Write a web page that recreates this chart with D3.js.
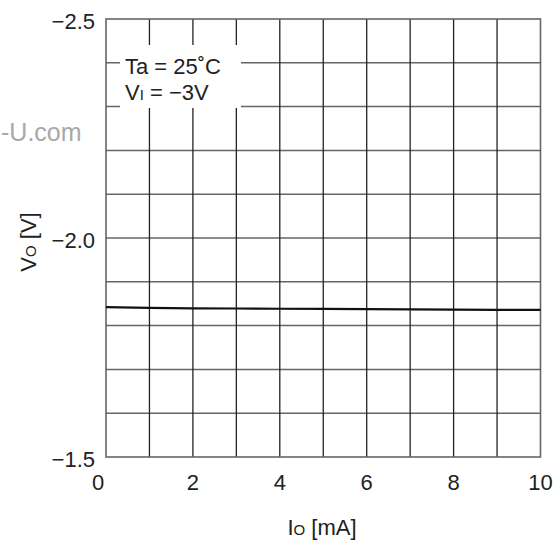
<!DOCTYPE html>
<html><head><meta charset="utf-8">
<script src="https://cdn.jsdelivr.net/npm/d3@7"></script>
<style>body{margin:0;background:#fff}svg{display:block}text{font-family:"Liberation Sans",Arial,sans-serif;fill:#222}</style>
</head><body>
<svg id="c" width="560" height="541"></svg>
<script>
const ioValues = [0,1,2,3,4,5,6,7,8,9,10];
const voValues = [-1.842,-1.8405,-1.8395,-1.839,-1.8385,-1.838,-1.8375,-1.837,-1.8365,-1.836,-1.836];
const xTicks = [0,2,4,6,8,10];
const yTickLabels = [-2.5,-2.0,-1.5];

const svg = d3.select("#c");
const L=106, R=540.5, T=19, B=457;
const x = d3.scaleLinear().domain([0,10]).range([L,R]);
const y = d3.scaleLinear().domain([-2.5,-1.5]).range([T,B]);

// watermark (cut at the left edge in the reference)
svg.append("text").attr("x",1).attr("y",141)
  .style("font-size","25px").style("fill","#a8a8a8").text("-U.com");

const g = svg.append("g");
g.selectAll("line.h").data(d3.range(1,10).map(i=>-2.5+i*0.1)).join("line")
  .attr("x1",L).attr("x2",R).attr("y1",d=>y(d)).attr("y2",d=>y(d))
  .attr("stroke","#666").attr("stroke-width",1.5);
g.selectAll("line.v").data(d3.range(1,10)).join("line")
  .attr("x1",d=>x(d)).attr("x2",d=>x(d)).attr("y1",T).attr("y2",B)
  .attr("stroke","#222").attr("stroke-width",1.3);
g.append("rect").attr("x",L).attr("y",T).attr("width",R-L).attr("height",B-T)
  .attr("fill","none").attr("stroke","#666").attr("stroke-width",1.6);

// annotation box
svg.append("rect").attr("x",120).attr("y",45).attr("width",121).attr("height",63).attr("fill","#fff");
svg.append("text").attr("x",125).attr("y",74).style("font-size","22px").text("Ta = 25˚C");
const t2 = svg.append("text").attr("x",125).attr("y",100).style("font-size","22px");
t2.append("tspan").text("V");
t2.append("tspan").style("font-size","15px").text("I");
t2.append("tspan").text(" = −3V");

// curve
svg.append("path").datum(ioValues.map((d,i)=>[d,voValues[i]]))
  .attr("fill","none").attr("stroke","#111").attr("stroke-width",2.2)
  .attr("d", d3.line().x(d=>x(d[0])).y(d=>y(d[1])));

// y tick labels
svg.selectAll("text.yl").data(yTickLabels).join("text")
  .attr("x",95).attr("y",d=>y(d)+10).attr("text-anchor","end")
  .style("font-size","22px").text(d=>d3.format(".1f")(d).replace("-","−"));
// x tick labels
svg.selectAll("text.xl").data(xTicks).join("text")
  .attr("x",d=>x(d)-(d===0?8:0)).attr("y",490).attr("text-anchor","middle")
  .style("font-size","22px").text(d=>d);

// axis titles
const xt = svg.append("text").attr("x",322).attr("y",535).attr("text-anchor","middle").style("font-size","22px");
xt.append("tspan").text("I");
xt.append("tspan").style("font-size","15px").text("O");
xt.append("tspan").text(" [mA]");
const yt = svg.append("text").attr("transform","translate(36,242) rotate(-90)").attr("text-anchor","middle").style("font-size","22px");
yt.append("tspan").text("V");
yt.append("tspan").style("font-size","15px").text("O");
yt.append("tspan").text(" [V]");
</script>
</body></html>
